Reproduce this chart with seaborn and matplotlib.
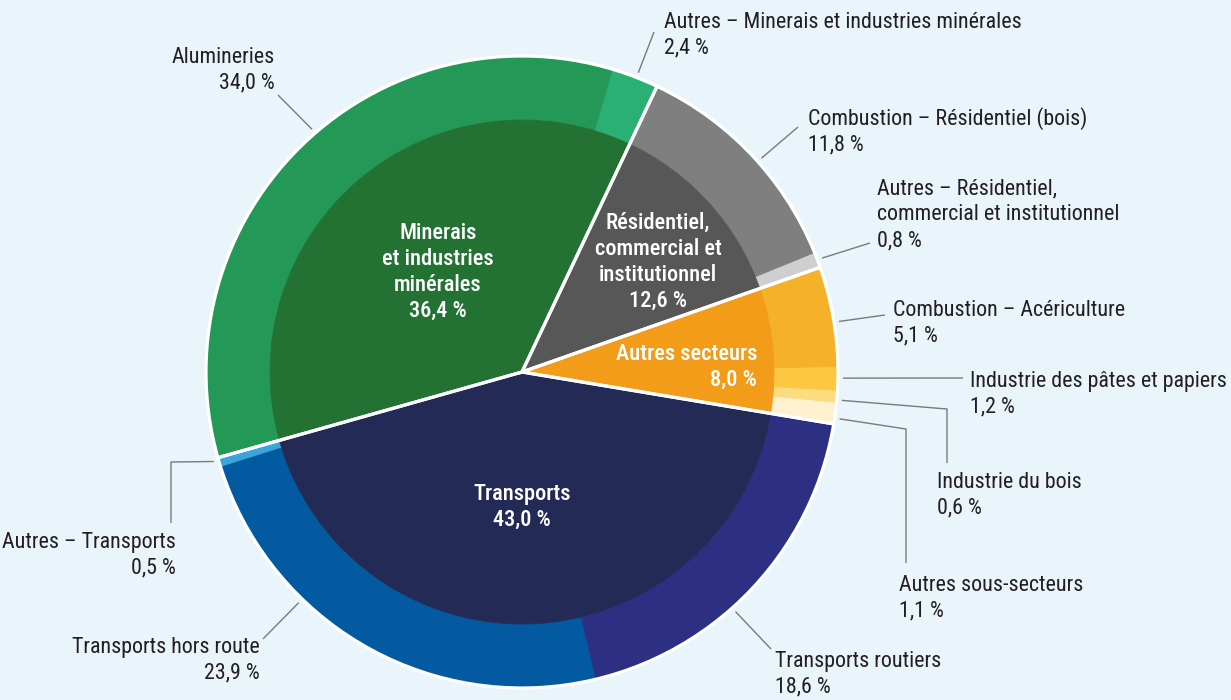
import matplotlib
matplotlib.use("Agg")
import matplotlib.pyplot as plt
import numpy as np
import seaborn as sns
from matplotlib import font_manager as fm

# main sectors (inner pie), in drawing order (counter-clockwise from the top)
sectors = ["Minerais\net industries\nminérales", "Transports", "Autres secteurs",
           "Résidentiel,\ncommercial et\ninstitutionnel"]
sector_values = [36.4, 43.0, 8.0, 12.6]
sector_colors = ["#247233", "#242a56", "#f39c19", "#575757"]

# sub-sectors (outer ring), same order
sub_names = ["Autres – Minerais et industries minérales", "Alumineries", "Autres – Transports",
             "Transports hors route", "Transports routiers", "Autres sous-secteurs",
             "Industrie du bois", "Industrie des pâtes et papiers", "Combustion – Acériculture",
             "Autres – Résidentiel,\ncommercial et institutionnel",
             "Combustion – Résidentiel (bois)"]
sub_values = [2.4, 34.0, 0.5, 23.9, 18.6, 1.1, 0.6, 1.2, 5.1, 0.8, 11.8]
sub_colors = ["#2bb074", "#239857", "#3aa4dc", "#045aa0", "#2d2f82", "#fff0cf",
              "#fddb80", "#fdc841", "#f5b12a", "#cfced0", "#7f7f7f"]

BG = "#eaf4fb"
TXT = "#231f20"
CX, CY = 522, 372          # pie centre in pixels
R_OUT, R_IN = 316, 252
LINE_STEP = 27             # px between text lines

# label layout: text x, text y (centre of block), alignment, leader path after the ring anchor,
# and where along the wedge the leader starts
label_layout = [
    (664, 35, "left", [(654, 32)], 0.47),
    (275, 70, "right", [(278, 95)], 0.47),
    (176, 555, "right", [(171, 462), (171, 523)], 0.25),
    (260, 660, "right", [(263, 639)], 0.33),
    (775, 674, "left", [(771, 649)], 0.42),
    (899, 598, "left", [(906, 429), (906, 563)], 0.27),
    (937, 495, "left", [(947, 409), (947, 463)], 0.2),
    (970, 394, "left", [(963, 378)], 0.52),
    (893, 323, "left", [(885, 315)], 0.44),
    (877, 215, "left", [(870, 243)], 0.5),
    (808, 131, "left", [(798, 127)], 0.46),
]
inner_layout = [(438, 272, "center"), (522, 507, "center"), (757, 367, "right"), (658, 262, "center")]


def pct(v):
    return f"{v:.1f}".replace(".", ",") + " %"


def narrow_font():
    """Find a condensed sans face (regular + medium); fall back to Liberation Sans."""
    narrow = ("condensed", "semi-condensed", "extra-condensed", "ultra-condensed")
    prefs = ["Liberation Sans Narrow", "Roboto Condensed", "Noto Sans", "Open Sans",
             "Roboto", "DejaVu Sans", "Lato", "Inter"]
    faces = {}
    for f in fm.fontManager.ttflist:
        is_narrow = str(f.stretch) in narrow or "Narrow" in f.name or "Condensed" in f.name \
            or "Condensed" in f.fname or "Narrow" in f.fname
        if not is_narrow or f.style != "normal":
            continue
        w = f.weight if isinstance(f.weight, int) else {"normal": 400, "regular": 400, "bold": 700}.get(f.weight, 500)
        faces.setdefault(f.name, {}).setdefault(w, f.fname)
    for p in prefs:
        if p in faces and 400 in faces[p]:
            ws = faces[p]
            heavy = ws.get(500) or ws.get(600) or ws.get(700) or ws[400]
            return fm.FontProperties(fname=ws[400]), fm.FontProperties(fname=heavy)
    return (fm.FontProperties(family="Liberation Sans"),
            fm.FontProperties(family="Liberation Sans", weight="bold"))


sns.set_theme(style="white")
plt.rcParams["font.family"] = ["Liberation Sans", "DejaVu Sans"]
fp_reg, fp_bold = narrow_font()

fig = plt.figure(figsize=(12.31, 7), dpi=100, facecolor=BG)
ax = fig.add_axes([0, 0, 1, 1])
ax.set_facecolor(BG)
renderer = fig.canvas.get_renderer()


def fit_size(sample, fp, target_px, cap=16.5):
    """Font size at which `sample` is about target_px wide, plus the linespacing for LINE_STEP."""
    t = fig.text(0, 0, sample, fontproperties=fp, fontsize=16.5)
    wpx = t.get_window_extent(renderer).width
    t.remove()
    fs = min(cap, 16.5 * target_px / wpx)
    t = fig.text(0, 0, "lp", fontproperties=fp, fontsize=fs)
    t2 = fig.text(0, 0, "lp\nlp", fontproperties=fp, fontsize=fs, linespacing=1.0)
    step = t2.get_window_extent(renderer).height - t.get_window_extent(renderer).height
    t.remove()
    t2.remove()
    return fs, LINE_STEP / step


FS, LS = fit_size("Alumineries", fp_reg, 103)
FSB, LSB = fit_size("Transports", fp_bold, 97)

# y axis runs top-down (pixel-like), so clockwise in data is counter-clockwise on screen
outer, _ = ax.pie(sub_values, colors=sub_colors, radius=R_OUT, center=(CX, CY),
                  startangle=-64.7, counterclock=False,
                  wedgeprops=dict(width=R_OUT - R_IN, linewidth=0.6))
for w, c in zip(outer, sub_colors):
    w.set_edgecolor(c)
inner, _ = ax.pie(sector_values, colors=sector_colors, radius=R_IN, center=(CX, CY),
                  startangle=-64.7, counterclock=False,
                  wedgeprops=dict(linewidth=0.6))
for w, c in zip(inner, sector_colors):
    w.set_edgecolor(c)
# white separators between main sectors, through both rings, and the outer rim
ax.pie(sector_values, colors=["none"] * 4, radius=R_OUT, center=(CX, CY),
       startangle=-64.7, counterclock=False,
       wedgeprops=dict(linewidth=2.3, edgecolor="white", fill=False))

ax.set_xlim(0, 1231)
ax.set_ylim(700, 0)
ax.set_aspect("equal")
ax.axis("off")

for name, v, (tx, ty, ha) in zip(sectors, sector_values, inner_layout):
    ax.text(tx, ty, f"{name}\n{pct(v)}", ha=ha, va="center", multialignment=ha,
            color="white", fontproperties=fp_bold, fontsize=FSB, linespacing=LSB)

r_anchor = 321
for w, name, v, (tx, ty, ha, path, frac) in zip(outer, sub_names, sub_values, label_layout):
    ang = np.deg2rad(w.theta2 - frac * (w.theta2 - w.theta1))
    ax0, ay0 = CX + r_anchor * np.cos(ang), CY + r_anchor * np.sin(ang)
    xs = [ax0] + [p[0] for p in path]
    ys = [ay0] + [p[1] for p in path]
    ax.plot(xs, ys, color="#7a7a7a", lw=1.0, solid_capstyle="butt")
    ax.text(tx, ty, f"{name}\n{pct(v)}", ha=ha, va="center", multialignment=ha,
            color=TXT, fontproperties=fp_reg, fontsize=FS, linespacing=LS)

fig.savefig("out.png", dpi=100, facecolor=BG)
